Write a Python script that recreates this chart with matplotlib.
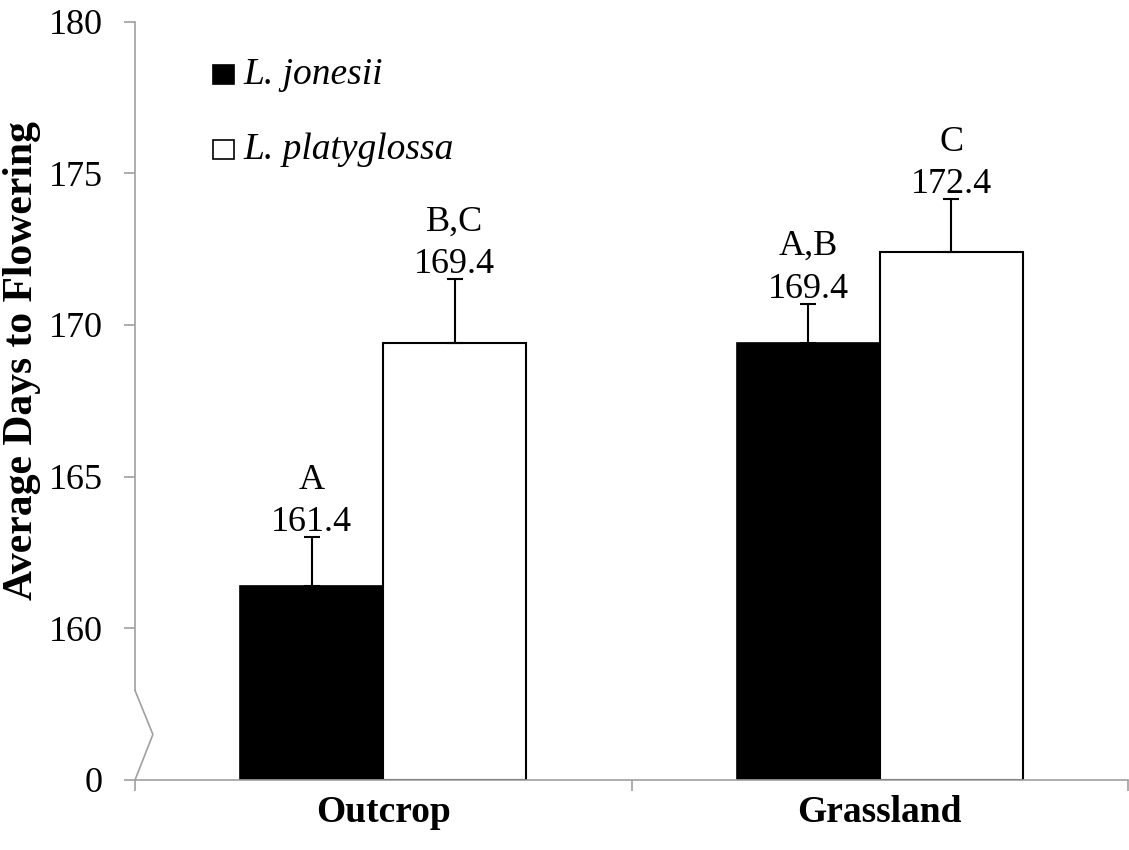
import matplotlib.pyplot as plt
import numpy as np
from matplotlib.patches import Rectangle
from matplotlib.lines import Line2D

plt.rcParams['font.family'] = ['Liberation Serif', 'DejaVu Serif']

# data
habitats = ["Outcrop", "Grassland"]
species = ["L. jonesii", "L. platyglossa"]
jonesii_days = [161.4, 169.4]
platyglossa_days = [169.4, 172.4]
jonesii_err = [1.6, 1.3]
platyglossa_err = [2.1, 1.75]
jonesii_letters = ["A", "A,B"]
platyglossa_letters = ["B,C", "C"]

# the break: "0" sits one tick step below 160
base = 155
ytick_vals = [155, 160, 165, 170, 175, 180]
ytick_labels = ["0", "160", "165", "170", "175", "180"]

axis_grey = "#a0a0a0"

fig = plt.figure(figsize=(11.29, 8.5), dpi=100)
ax = fig.add_axes([0.1196, 0.0824, 0.8795, 0.8921])

x = np.arange(len(habitats)) + 0.5
w = 0.288

ax.bar(x - w / 2, np.array(jonesii_days) - base, w, bottom=base,
       color="black", edgecolor="black", linewidth=1.2, zorder=2)
ax.bar(x + w / 2, np.array(platyglossa_days) - base, w, bottom=base,
       color="white", edgecolor="black", linewidth=1.5, zorder=2)

# one-sided (upper) error bars
ax.errorbar(x - w / 2, jonesii_days, yerr=[np.zeros(2), jonesii_err],
            fmt="none", ecolor="black", elinewidth=1.5, capsize=6, capthick=1.5, zorder=3)
ax.errorbar(x + w / 2, platyglossa_days, yerr=[np.zeros(2), platyglossa_err],
            fmt="none", ecolor="black", elinewidth=1.5, capsize=6, capthick=1.5, zorder=3)

# value and letter labels above the error bars
for xs, vals, errs, letters in [(x - w / 2, jonesii_days, jonesii_err, jonesii_letters),
                                (x + w / 2, platyglossa_days, platyglossa_err, platyglossa_letters)]:
    for xi, v, e, lt in zip(xs, vals, errs, letters):
        ax.annotate(f"{v:.1f}", (xi, v + e), xytext=(0, 4.5), textcoords="offset points",
                    ha="center", va="baseline", fontsize=26)
        ax.annotate(lt, (xi, v + e), xytext=(0, 35), textcoords="offset points",
                    ha="center", va="baseline", fontsize=26)

ax.set_xlim(0, 2)
ax.set_ylim(base, 180)

ax.set_yticks(ytick_vals)
ax.set_yticklabels(ytick_labels, fontsize=26)
ax.tick_params(axis="y", direction="out", length=8, width=1.2, color=axis_grey, pad=15)

ax.set_xticks([0, 1, 2])
ax.set_xticklabels([])
ax.set_xticks(x, minor=True)
ax.set_xticklabels(habitats, minor=True, fontsize=27, fontweight="bold")
ax.tick_params(axis="x", which="major", direction="out", length=8, width=1.2, color=axis_grey)
ax.tick_params(axis="x", which="minor", length=0, pad=11)

for s in ["top", "right", "left"]:
    ax.spines[s].set_visible(False)
ax.spines["bottom"].set_color(axis_grey)
ax.spines["bottom"].set_linewidth(1.2)
ax.spines["bottom"].set_zorder(4)

# left axis line with a zigzag break near the bottom
brk = 157.95
ax.add_line(Line2D([0, 0], [brk, 180], color=axis_grey, lw=1.2, clip_on=False, zorder=4))
ax.add_line(Line2D([0, 0.036, 0], [brk, 156.5, base], color=axis_grey, lw=1.2,
                   clip_on=False, zorder=4))

# legend
for i, (name, fc) in enumerate(zip(species, ["black", "white"])):
    y0 = 0.9178 - i * 0.0988
    ax.add_patch(Rectangle((0.0785, y0), 0.0211, 0.025, transform=ax.transAxes,
                           facecolor=fc, edgecolor="black", linewidth=1.2, clip_on=False))
    ax.text(0.1088, y0 + 0.0125, name, transform=ax.transAxes, fontsize=27,
            style="italic", va="center", ha="left")

fig.text(22 / 1129, 1 - 361 / 850, "Average Days to Flowering", rotation=90,
         fontsize=30, fontweight="bold", ha="center", va="center")

fig.savefig("out.png", dpi=100)
